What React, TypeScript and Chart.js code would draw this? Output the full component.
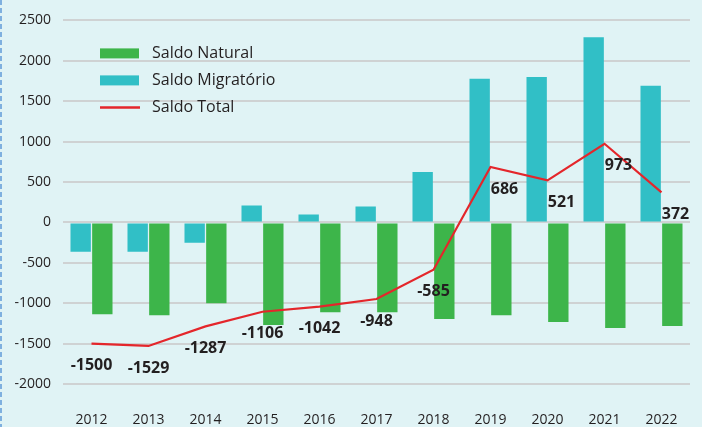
import React, { useEffect, useRef } from "react";
import { Chart, registerables } from "chart.js";

Chart.register(...registerables);

const years = ["2012", "2013", "2014", "2015", "2016", "2017", "2018", "2019", "2020", "2021", "2022"];
const saldoNatural = [-1136, -1148, -1001, -1271, -1111, -1111, -1197, -1148, -1234, -1307, -1283];
const saldoMigratorio = [-364, -364, -253, 208, 98, 196, 625, 1777, 1801, 2292, 1691];
const saldoTotal = [-1500, -1529, -1287, -1106, -1042, -948, -585, 686, 521, 973, 372];
const yTicks = [-2000, -1500, -1000, -500, 0, 500, 1000, 1500, 2000, 2500];

const GREEN = "#3db54a";
const CYAN = "#31bfc6";
const RED = "#e4262b";
const TEXT = "#231f20";
const FONT = "'Open Sans', sans-serif";

const legendItems = [
  { label: "Saldo Natural", color: GREEN, kind: "box" },
  { label: "Saldo Migratório", color: CYAN, kind: "box" },
  { label: "Saldo Total", color: RED, kind: "line" },
];

const customLegend = {
  id: "customLegend",
  afterDraw(chart: any) {
    const { ctx, chartArea } = chart;
    ctx.save();
    ctx.font = `16px ${FONT}`;
    ctx.textBaseline = "middle";
    legendItems.forEach((it, i) => {
      const x = chartArea.left + 37;
      const y = chartArea.top + 33 + i * 27;
      if (it.kind === "box") {
        ctx.fillStyle = it.color;
        ctx.fillRect(x, y - 5, 39, 10);
      } else {
        ctx.strokeStyle = it.color;
        ctx.lineWidth = 2.5;
        ctx.beginPath();
        ctx.moveTo(x, y);
        ctx.lineTo(x + 40, y);
        ctx.stroke();
      }
      ctx.fillStyle = TEXT;
      ctx.fillText(it.label, x + 52, y);
    });
    ctx.restore();
  },
};

const totalLabels = {
  id: "totalLabels",
  afterDatasetsDraw(chart: any) {
    const { ctx } = chart;
    const meta = chart.getDatasetMeta(2);
    ctx.save();
    ctx.font = `bold 16px ${FONT}`;
    ctx.fillStyle = TEXT;
    ctx.textAlign = "center";
    ctx.textBaseline = "middle";
    meta.data.forEach((pt: any, i: number) => {
      const v = saldoTotal[i];
      const dx = v >= 0 ? 14 : 0;
      ctx.fillText(String(v), pt.x + dx, pt.y + 22);
    });
    ctx.restore();
  },
};

const leftDash = {
  id: "leftDash",
  beforeDraw(chart: any) {
    const { ctx, height } = chart;
    ctx.save();
    ctx.strokeStyle = "#7fb0df";
    ctx.lineWidth = 2;
    ctx.setLineDash([5, 3]);
    ctx.beginPath();
    ctx.moveTo(1, 0);
    ctx.lineTo(1, height);
    ctx.stroke();
    ctx.restore();
  },
};

export default function App() {
  const ref = useRef<HTMLCanvasElement>(null);
  useEffect(() => {
    document.body.style.margin = "0";
    const chart = new Chart(ref.current as HTMLCanvasElement, {
      type: "bar",
      data: {
        labels: years,
        datasets: [
          {
            type: "bar",
            label: "Saldo Migratório",
            data: saldoMigratorio,
            backgroundColor: CYAN,
            order: 1,
            categoryPercentage: 0.76,
            barPercentage: 0.94,
          },
          {
            type: "bar",
            label: "Saldo Natural",
            data: saldoNatural,
            backgroundColor: GREEN,
            order: 1,
            categoryPercentage: 0.76,
            barPercentage: 0.94,
          },
          {
            type: "line",
            label: "Saldo Total",
            data: saldoTotal,
            borderColor: RED,
            borderWidth: 2.2,
            pointRadius: 0,
            tension: 0,
            order: 0,
          } as any,
        ],
      },
      options: {
        animation: false,
        responsive: false,
        maintainAspectRatio: false,
        layout: { padding: { top: 12, right: 12, left: 0, bottom: 0 } },
        plugins: { legend: { display: false }, tooltip: { enabled: false } },
        scales: {
          x: {
            grid: { display: false },
            border: { display: false },
            ticks: { color: TEXT, font: { family: FONT, size: 14 }, padding: 20 },
            afterFit(scale: any) {
              scale.height = 43;
            },
          },
          y: {
            min: -2000,
            max: 2500,
            afterBuildTicks(scale: any) {
              scale.ticks = yTicks.map((v) => ({ value: v }));
            },
            grid: { color: "#cfd2d3", lineWidth: 2, drawTicks: false },
            border: { display: false },
            ticks: {
              color: TEXT,
              font: { family: FONT, size: 14 },
              padding: 12,
              callback: (v: any) => String(v),
            },
            afterFit(scale: any) {
              scale.width = 63;
            },
          },
        },
      },
      plugins: [leftDash, customLegend, totalLabels],
    });
    return () => chart.destroy();
  }, []);
  return (
    <div style={{ position: "absolute", left: 0, top: 0, width: 702, height: 427, background: "#e0f3f5" }}>
      <canvas ref={ref} width={702} height={427} style={{ width: 702, height: 427 }} />
    </div>
  );
}
